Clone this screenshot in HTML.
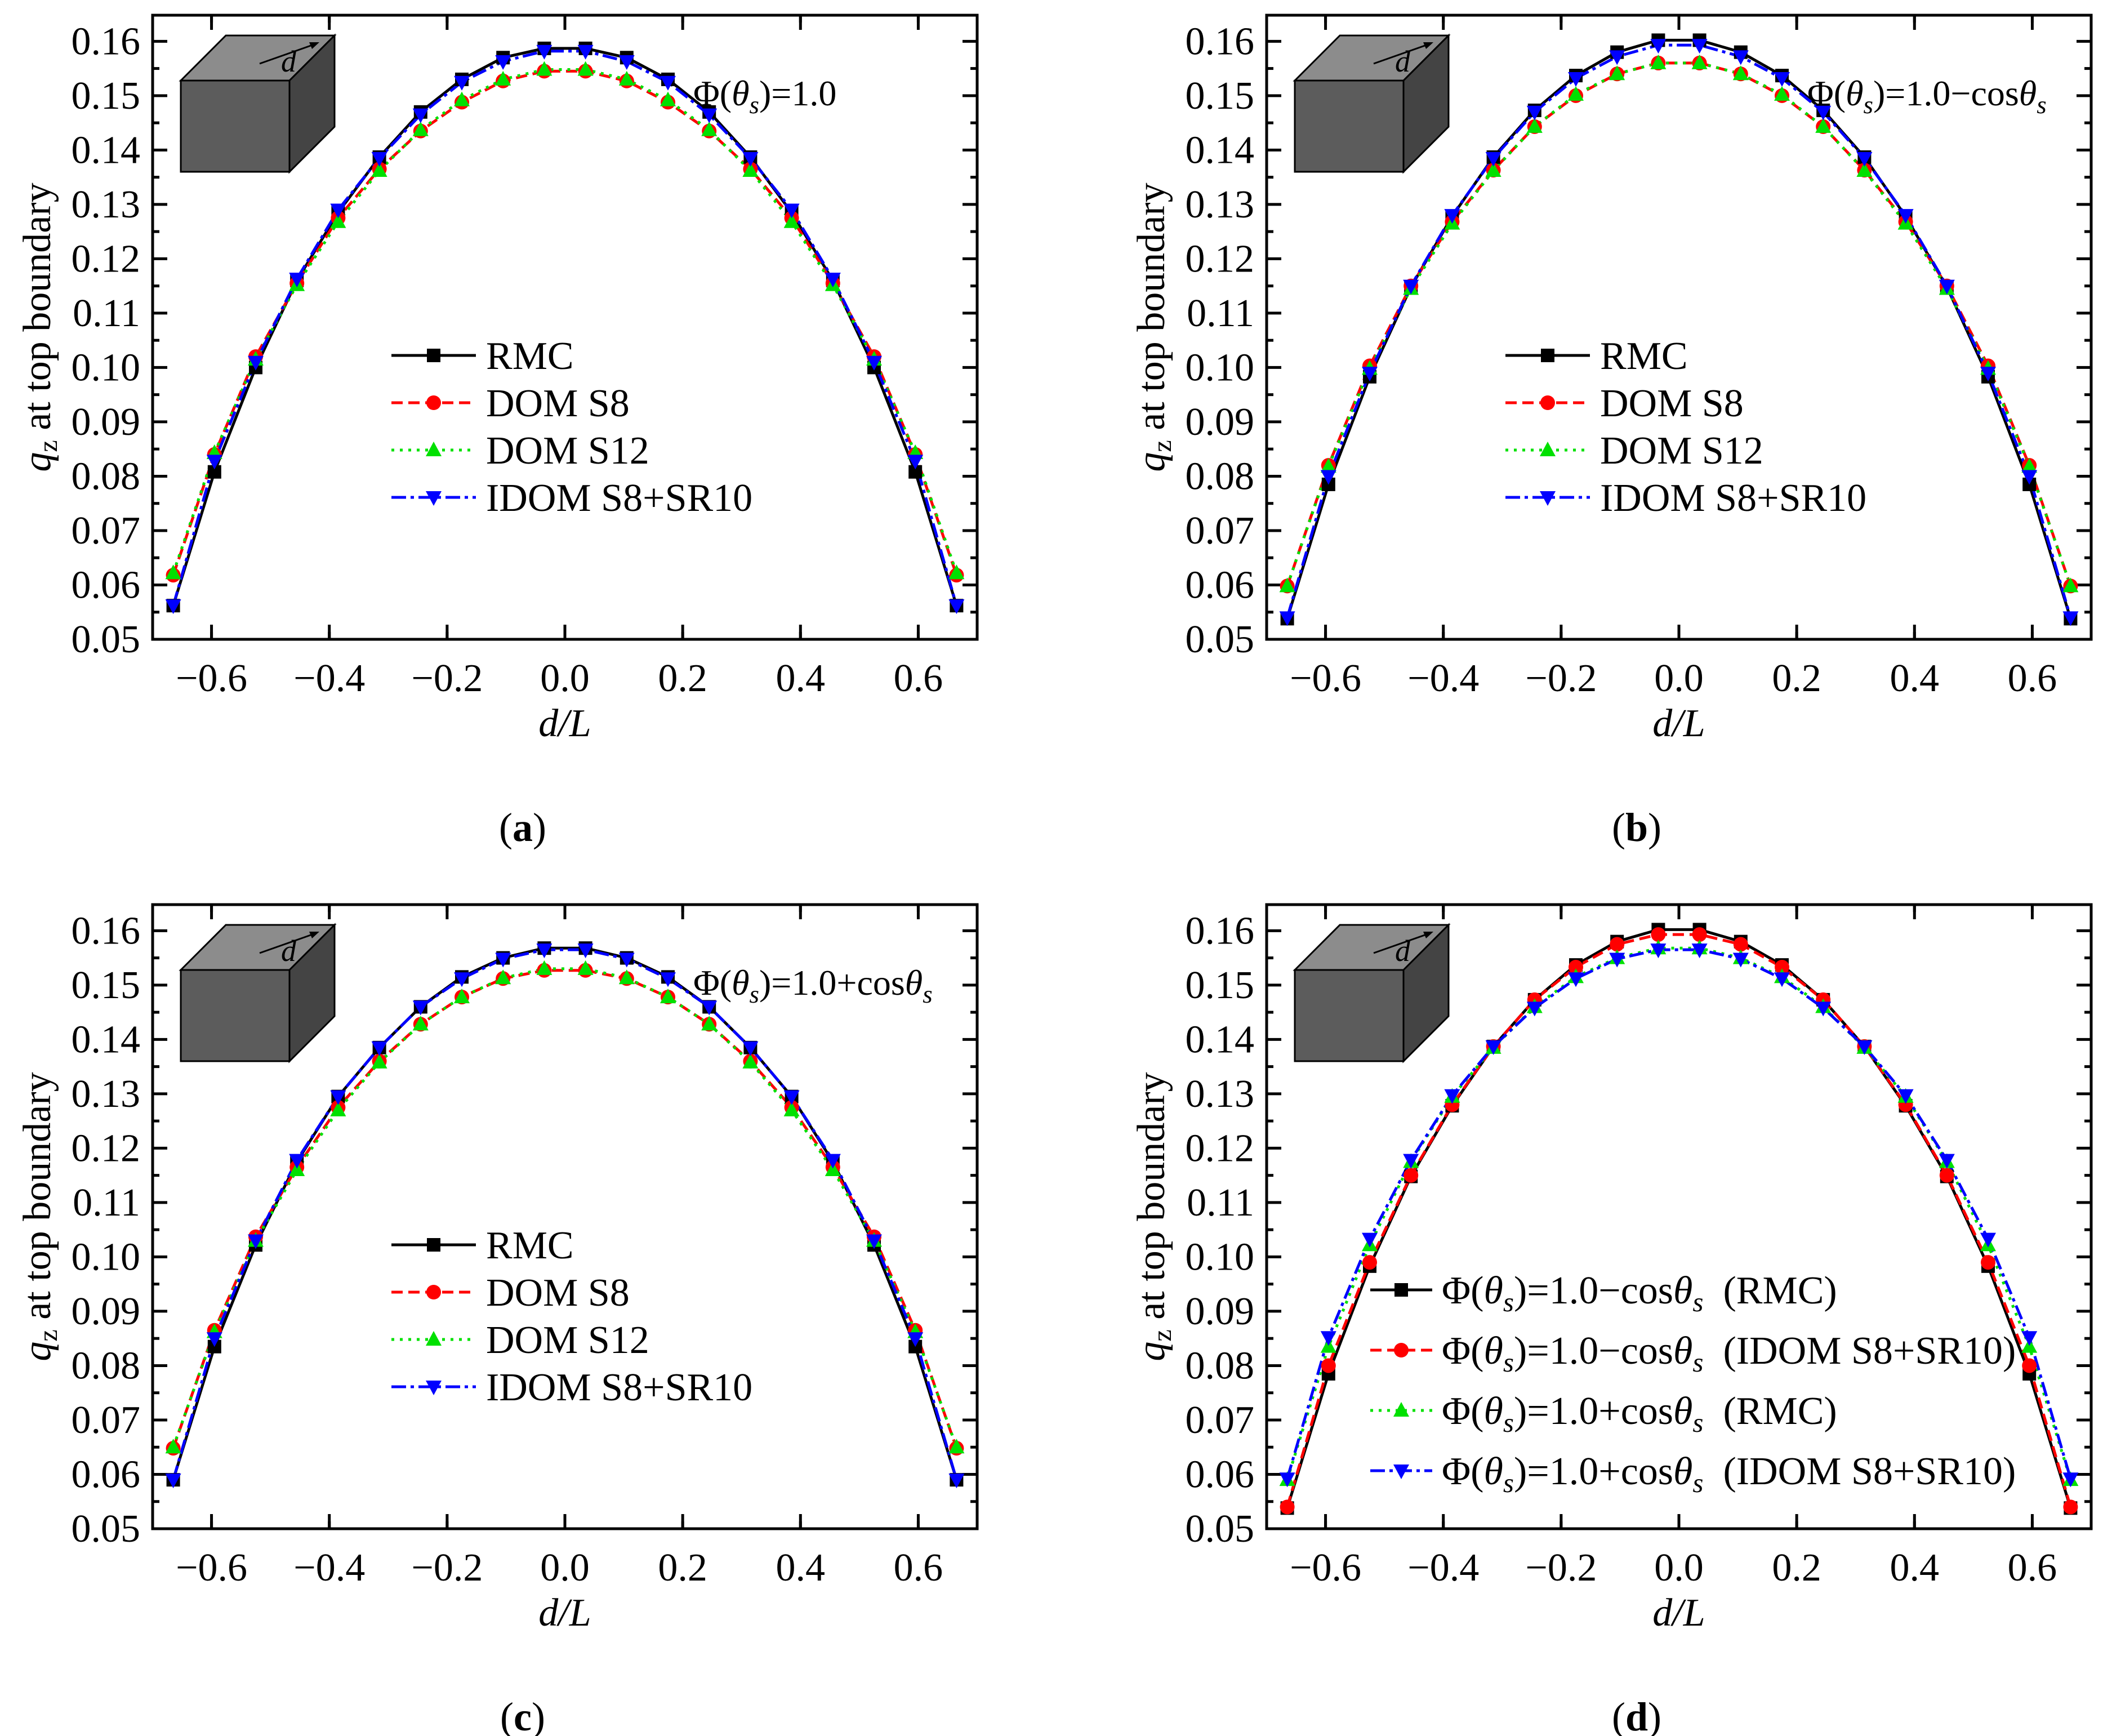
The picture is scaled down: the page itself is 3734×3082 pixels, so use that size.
<!DOCTYPE html>
<html><head><meta charset="utf-8">
<style>
html,body{margin:0;padding:0;background:#fff;}
svg{display:block;}
text{font-family:"Liberation Serif","DejaVu Serif",serif;}
</style></head>
<body>
<svg id="fig" width="3734" height="3082" viewBox="0 0 3734 3082" xmlns="http://www.w3.org/2000/svg" font-family="Liberation Serif, DejaVu Serif, serif"></svg>
<script>
// ---- data ----
const xVals = [-0.665,-0.595,-0.525,-0.455,-0.385,-0.315,-0.245,-0.175,-0.105,-0.035,0.035,0.105,0.175,0.245,0.315,0.385,0.455,0.525,0.595,0.665];
const xTicks = [-0.6,-0.4,-0.2,0.0,0.2,0.4,0.6];
const xTickLabels = ["\u22120.6","\u22120.4","\u22120.2","0.0","0.2","0.4","0.6"];
const yTicks = [0.05,0.06,0.07,0.08,0.09,0.10,0.11,0.12,0.13,0.14,0.15,0.16];
const yTickLabels = ["0.05","0.06","0.07","0.08","0.09","0.10","0.11","0.12","0.13","0.14","0.15","0.16"];

const aRMC  = [0.0562,0.0808,0.1000,0.1160,0.1285,0.1387,0.1470,0.1530,0.1570,0.1587,0.1587,0.1570,0.1530,0.1470,0.1387,0.1285,0.1160,0.1000,0.0808,0.0562];
const aS8   = [0.0618,0.0840,0.1020,0.1155,0.1275,0.1365,0.1435,0.1488,0.1527,0.1545,0.1545,0.1527,0.1488,0.1435,0.1365,0.1275,0.1155,0.1020,0.0840,0.0618];
const aS12  = [0.0622,0.0843,0.1015,0.1152,0.1268,0.1362,0.1437,0.1492,0.1530,0.1548,0.1548,0.1530,0.1492,0.1437,0.1362,0.1268,0.1152,0.1015,0.0843,0.0622];
const aIDOM = [0.0562,0.0828,0.1010,0.1163,0.1290,0.1385,0.1465,0.1525,0.1563,0.1582,0.1582,0.1563,0.1525,0.1465,0.1385,0.1290,0.1163,0.1010,0.0828,0.0562];

const bRMC  = [0.0538,0.0785,0.0983,0.1148,0.1278,0.1387,0.1473,0.1537,0.1580,0.1602,0.1602,0.1580,0.1537,0.1473,0.1387,0.1278,0.1148,0.0983,0.0785,0.0538];
const bS8   = [0.0598,0.0820,0.1003,0.1150,0.1268,0.1363,0.1443,0.1500,0.1540,0.1560,0.1560,0.1540,0.1500,0.1443,0.1363,0.1268,0.1150,0.1003,0.0820,0.0598];
const bS12  = [0.0598,0.0818,0.0998,0.1145,0.1265,0.1362,0.1443,0.1502,0.1540,0.1560,0.1560,0.1540,0.1502,0.1443,0.1362,0.1265,0.1145,0.0998,0.0818,0.0598];
const bIDOM = [0.0540,0.0800,0.0990,0.1150,0.1280,0.1385,0.1470,0.1532,0.1572,0.1593,0.1593,0.1572,0.1532,0.1470,0.1385,0.1280,0.1150,0.0990,0.0800,0.0540];

const cRMC  = [0.0590,0.0835,0.1022,0.1175,0.1295,0.1385,0.1460,0.1515,0.1550,0.1568,0.1568,0.1550,0.1515,0.1460,0.1385,0.1295,0.1175,0.1022,0.0835,0.0590];
const cS8   = [0.0648,0.0865,0.1037,0.1165,0.1275,0.1360,0.1428,0.1478,0.1512,0.1527,0.1527,0.1512,0.1478,0.1428,0.1360,0.1275,0.1165,0.1037,0.0865,0.0648];
const cS12  = [0.0650,0.0862,0.1030,0.1160,0.1270,0.1358,0.1428,0.1478,0.1513,0.1530,0.1530,0.1513,0.1478,0.1428,0.1358,0.1270,0.1160,0.1030,0.0862,0.0650];
const cIDOM = [0.0590,0.0850,0.1030,0.1178,0.1295,0.1385,0.1460,0.1512,0.1548,0.1565,0.1565,0.1548,0.1512,0.1460,0.1385,0.1295,0.1178,0.1030,0.0850,0.0590];

const dRMCminus  = [0.0538,0.0785,0.0983,0.1148,0.1278,0.1387,0.1473,0.1537,0.1580,0.1602,0.1602,0.1580,0.1537,0.1473,0.1387,0.1278,0.1148,0.0983,0.0785,0.0538];
const dIDOMminus = [0.0540,0.0800,0.0990,0.1150,0.1280,0.1387,0.1473,0.1533,0.1575,0.1593,0.1593,0.1575,0.1533,0.1473,0.1387,0.1280,0.1150,0.0990,0.0800,0.0540];
const dRMCplus   = [0.0590,0.0835,0.1022,0.1175,0.1295,0.1385,0.1460,0.1515,0.1550,0.1568,0.1568,0.1550,0.1515,0.1460,0.1385,0.1295,0.1175,0.1022,0.0835,0.0590];
const dIDOMplus  = [0.0592,0.0852,0.1033,0.1178,0.1297,0.1387,0.1458,0.1512,0.1548,0.1565,0.1565,0.1548,0.1512,0.1458,0.1387,0.1297,0.1178,0.1033,0.0852,0.0592];

// ---- drawing ----
const NS = "http://www.w3.org/2000/svg";
const fig = document.getElementById('fig');
const FS = 70;
function mk(tag, attrs, parent){
  const e = document.createElementNS(NS, tag);
  for (const k in attrs) e.setAttribute(k, attrs[k]);
  (parent||fig).appendChild(e);
  return e;
}
const W = 1464, H = 1108, XMIN=-0.7, XMAX=0.7, YMIN=0.05, YMAX=0.1648;
const STY = {
  black:{c:"#000000",dash:"",m:"square"},
  red:{c:"#ff0000",dash:"20,10",m:"circle"},
  green:{c:"#00e000",dash:"5,10",m:"up"},
  blue:{c:"#0000ff",dash:"26,8,6,8",m:"down"}
};
function marker(g, kind, x, y, color){
  const s = 12;
  let e;
  if (kind==="square") e = mk('rect',{x:x-s,y:y-s,width:2*s,height:2*s,fill:color},g);
  else if (kind==="circle") e = mk('circle',{cx:x,cy:y,r:s+1,fill:color},g);
  else if (kind==="up") e = mk('polygon',{points:`${x},${y-s-3} ${x-s-2},${y+s-1} ${x+s+2},${y+s-1}`,fill:color},g);
  else e = mk('polygon',{points:`${x},${y+s+3} ${x-s-2},${y-s+1} ${x+s+2},${y-s+1}`,fill:color},g);
  return e;
}
function legendSample(g, st, x1, x2, y){
  const l = mk('line',{x1:x1,y1:y,x2:x2,y2:y,stroke:st.c,'stroke-width':5,'stroke-dasharray':st.dash},g);
  
  
  const m = marker(g, st.m, (x1+x2)/2, y, st.c);
  
  
}
function phiText(parent, x, y, tail, tailSub, extra, size){
  const t = mk('text',{x:x,y:y,'font-size':size,fill:'#000','xml:space':'preserve'},parent);
  t.innerHTML = `\u03A6(<tspan font-style="italic">\u03B8</tspan><tspan font-style="italic" font-size="${size*0.7}" dy="14">s</tspan><tspan dy="-14">)=1.0${tail}</tspan>` +
    (tailSub ? `<tspan font-style="italic">\u03B8</tspan><tspan font-style="italic" font-size="${size*0.7}" dy="14">s</tspan><tspan dy="-14">${extra||''}</tspan>` : '');
  return t;
}
function panel(id, L, T, series, legend, annot, letter){
  const g = mk('g',{});
  
  
  const sx = v => L + (v-XMIN)/(XMAX-XMIN)*W;
  const sy = v => T + H - (v-YMIN)/(YMAX-YMIN)*H;
  for (let i=0;i<yTicks.length;i++){
    const y = sy(yTicks[i]);
    mk('line',{x1:L,y1:y,x2:L+26,y2:y,stroke:'#000','stroke-width':5},g);
    mk('line',{x1:L+W,y1:y,x2:L+W-26,y2:y,stroke:'#000','stroke-width':5},g);
    const yh = sy(yTicks[i]+0.005);
    if (yTicks[i] < 0.16){
      mk('line',{x1:L,y1:yh,x2:L+12,y2:yh,stroke:'#000','stroke-width':5},g);
      mk('line',{x1:L+W,y1:yh,x2:L+W-12,y2:yh,stroke:'#000','stroke-width':5},g);
    }
    const t = mk('text',{x:L-22,y:y+23,'font-size':FS,'text-anchor':'end',fill:'#000'},g);
    t.textContent = yTickLabels[i];
    
    
  }
  for (let i=0;i<xTicks.length;i++){
    const x = sx(xTicks[i]);
    mk('line',{x1:x,y1:T+H,x2:x,y2:T+H-26,stroke:'#000','stroke-width':5},g);
    mk('line',{x1:x,y1:T,x2:x,y2:T+26,stroke:'#000','stroke-width':5},g);
    const t = mk('text',{x:x,y:T+H+92,'font-size':FS,'text-anchor':'middle',fill:'#000'},g);
    t.textContent = xTickLabels[i];
    
    
  }
  for (let i=0;i<xTicks.length+1;i++){
    const v = -0.7+0.1+0.2*i;
    if (v>0.7) continue;
    const x = sx(v);
    mk('line',{x1:x,y1:T+H,x2:x,y2:T+H-13,stroke:'#000','stroke-width':5},g);
    mk('line',{x1:x,y1:T,x2:x,y2:T+13,stroke:'#000','stroke-width':5},g);
  }
  const cg = mk('g',{},g);
  
  
  const fx=L+50, fy=T+116, fw=193, fh=162, dd=80;
  mk('polygon',{points:`${fx},${fy} ${fx+dd},${fy-dd} ${fx+fw+dd},${fy-dd} ${fx+fw},${fy}`,fill:'#8c8c8c',stroke:'#000','stroke-width':3},cg);
  mk('polygon',{points:`${fx+fw},${fy} ${fx+fw+dd},${fy-dd} ${fx+fw+dd},${fy+fh-dd} ${fx+fw},${fy+fh}`,fill:'#444',stroke:'#000','stroke-width':3},cg);
  mk('rect',{x:fx,y:fy,width:fw,height:fh,fill:'#5c5c5c',stroke:'#000','stroke-width':3},cg);
  mk('line',{x1:fx+140,y1:fy-30,x2:fx+242,y2:fy-66,stroke:'#000','stroke-width':3},cg);
  mk('polygon',{points:`${fx+246},${fy-68} ${fx+228},${fy-68} ${fx+233},${fy-56}`,fill:'#000'},cg);
  const dt = mk('text',{x:fx+178,y:fy-16,'font-size':54,'font-style':'italic',fill:'#000'},cg);
  dt.textContent='d';
  for (const s of series){
    const st = STY[s.style];
    const pts = s.data.map((v,i)=>`${sx(xVals[i]).toFixed(1)},${sy(v).toFixed(1)}`).join(' ');
    const pl = mk('polyline',{points:pts,fill:'none',stroke:st.c,'stroke-width':5,'stroke-dasharray':st.dash},g);
    
    
  }
  for (const s of series){
    const st = STY[s.style];
    s.data.forEach((v,i)=>{
      const m = marker(g, st.m, sx(xVals[i]), sy(v), st.c);
      
      
    });
  }
  const fr = mk('rect',{x:L,y:T,width:W,height:H,fill:'none',stroke:'#000','stroke-width':5},g);
  
  
  const xt = mk('text',{x:L+W/2,y:T+H+172,'font-size':FS,'font-style':'italic','text-anchor':'middle',fill:'#000'},g);
  xt.textContent='d/L';
  
  
  const yt = mk('text',{x:0,y:0,'font-size':FS,'text-anchor':'middle',fill:'#000',transform:`translate(${L-182},${T+H/2}) rotate(-90)`},g);
  yt.innerHTML='<tspan font-style="italic">q</tspan><tspan font-size="48" dy="12">z</tspan><tspan dy="-12"> at top boundary</tspan>';
  
  
  const lg = mk('g',{},g);
  
  
  legend.items.forEach((it,i)=>{
    const y = T + legend.y0 + i*legend.dy;
    legendSample(lg, STY[it.style], L+legend.x1, L+legend.x2, y);
    let t;
    if (it.phi){
      t = phiText(lg, L+legend.tx, y+24, it.phi, true, it.rest, FS);
    } else {
      t = mk('text',{x:L+legend.tx,y:y+24,'font-size':FS,fill:'#000'},lg);
      t.textContent = it.label;
    }
    
    
  });
  if (annot){
    const a = phiText(g, L+960, T+160, annot.tail, annot.sub, '', 64);
    
    
  }
  const pl = mk('text',{x:L+657,y:T+1466,'font-size':72,'text-anchor':'middle',fill:'#000'},g);
  pl.innerHTML = `(<tspan font-weight="bold">${letter}</tspan>)`;
  
  
}
const std = {x1:424,x2:574,tx:592,y0:604,dy:84};
const stdItems = [{style:'black',label:'RMC'},{style:'red',label:'DOM S8'},{style:'green',label:'DOM S12'},{style:'blue',label:'IDOM S8+SR10'}];
panel('a',271,27,[{name:'rmc',style:'black',data:aRMC},{name:'dom-s8',style:'red',data:aS8},{name:'dom-s12',style:'green',data:aS12},{name:'idom',style:'blue',data:aIDOM}],
  Object.assign({items:stdItems},std),{tail:'',sub:false},'a');
panel('b',2249,27,[{name:'rmc',style:'black',data:bRMC},{name:'dom-s8',style:'red',data:bS8},{name:'dom-s12',style:'green',data:bS12},{name:'idom',style:'blue',data:bIDOM}],
  Object.assign({items:stdItems},std),{tail:'\u2212cos',sub:true},'b');
panel('c',271,1606,[{name:'rmc',style:'black',data:cRMC},{name:'dom-s8',style:'red',data:cS8},{name:'dom-s12',style:'green',data:cS12},{name:'idom',style:'blue',data:cIDOM}],
  Object.assign({items:stdItems},std),{tail:'+cos',sub:true},'c');
panel('d',2249,1606,[{name:'rmc-minus',style:'black',data:dRMCminus},{name:'idom-minus',style:'red',data:dIDOMminus},{name:'rmc-plus',style:'green',data:dRMCplus},{name:'idom-plus',style:'blue',data:dIDOMplus}],
  {x1:184,x2:294,tx:311,y0:684,dy:107,items:[
    {style:'black',phi:'\u2212cos',rest:'\u00a0\u00a0(RMC)'},
    {style:'red',phi:'\u2212cos',rest:'\u00a0\u00a0(IDOM S8+SR10)'},
    {style:'green',phi:'+cos',rest:'\u00a0\u00a0(RMC)'},
    {style:'blue',phi:'+cos',rest:'\u00a0\u00a0(IDOM S8+SR10)'}]},null,'d');
</script>
</body></html>
